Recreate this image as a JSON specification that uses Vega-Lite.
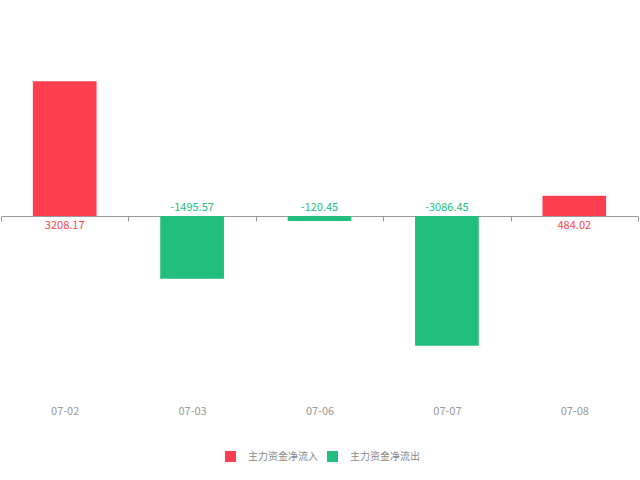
{
  "$schema": "https://vega.github.io/schema/vega-lite/v6.json",
  "autosize": {"type": "none"},
  "padding": {"left": 1, "top": 48, "right": 2, "bottom": 96},
  "width": 637,
  "height": 336,
  "config": {
    "view": {"stroke": null},
    "font": "Noto Sans CJK SC"
  },
  "data": {
    "values": [
      {"date": "07-02", "value": 3208.17, "type": "主力资金净流入"},
      {"date": "07-03", "value": -1495.57, "type": "主力资金净流出"},
      {"date": "07-06", "value": -120.45, "type": "主力资金净流出"},
      {"date": "07-07", "value": -3086.45, "type": "主力资金净流出"},
      {"date": "07-08", "value": 484.02, "type": "主力资金净流入"}
    ]
  },
  "encoding": {
    "x": {
      "field": "date",
      "type": "ordinal",
      "sort": null,
      "scale": {"paddingInner": 0, "paddingOuter": 0},
      "axis": {
        "title": null,
        "orient": "bottom",
        "offset": -168,
        "tickBand": "extent",
        "tickSize": 5,
        "tickColor": "#999999",
        "domainColor": "#999999",
        "labelColor": "#999999",
        "labelFontSize": 11,
        "labelPadding": 184,
        "labelAngle": 0,
        "zindex": 0
      }
    },
    "y": {
      "field": "value",
      "type": "quantitative",
      "scale": {"domain": [-4000, 4000]},
      "axis": null
    },
    "color": {
      "field": "type",
      "type": "nominal",
      "scale": {
        "domain": ["主力资金净流入", "主力资金净流出"],
        "range": ["#fd3e4e", "#21be7e"]
      },
      "legend": null
    }
  },
  "layer": [
    {
      "mark": {"type": "bar", "width": {"band": 0.5}},
      "encoding": {
        "y2": {"datum": 0},
        "color": {
          "field": "type",
          "type": "nominal",
          "scale": {
            "domain": ["主力资金净流入", "主力资金净流出"],
            "range": ["#fd3e4e", "#21be7e"]
          },
          "legend": {
            "title": null,
            "orient": "none",
            "direction": "horizontal",
            "legendX": 224,
            "legendY": 403,
            "symbolType": "square",
            "symbolSize": 121,
            "symbolStrokeWidth": 0,
            "labelColor": "#888888",
            "labelFontSize": 10,
            "labelOffset": 12,
            "columnPadding": 9
          }
        }
      }
    },
    {
      "transform": [{"filter": "datum.value > 0"}],
      "mark": {"type": "text", "fontSize": 11, "baseline": "top", "dy": 4},
      "encoding": {
        "y": {"datum": 0},
        "text": {"field": "value", "type": "nominal"}
      }
    },
    {
      "transform": [{"filter": "datum.value < 0"}],
      "mark": {"type": "text", "fontSize": 11, "baseline": "bottom", "dy": -3},
      "encoding": {
        "y": {"datum": 0},
        "text": {"field": "value", "type": "nominal"}
      }
    }
  ]
}
